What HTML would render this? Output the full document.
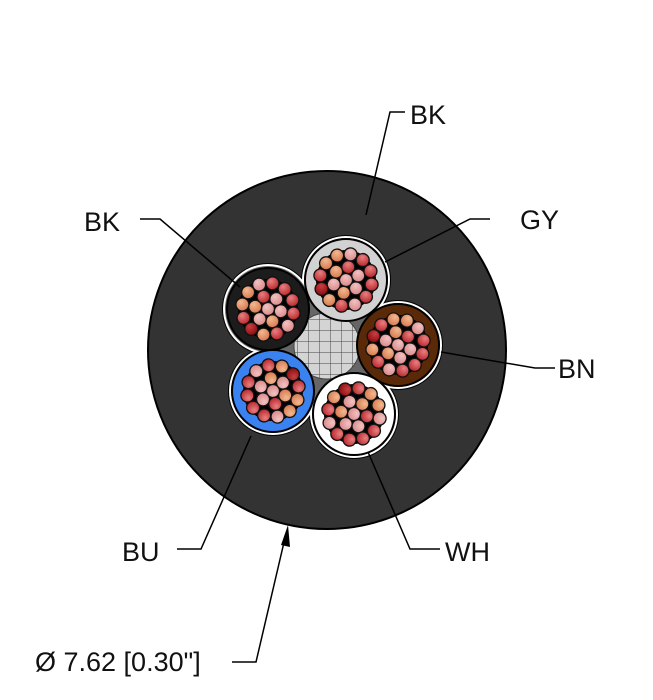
<!DOCTYPE html>
<html><head><meta charset="utf-8"><style>
html,body{margin:0;padding:0;background:#fff;}
svg{display:block;}
text{font-family:"Liberation Sans",sans-serif;font-size:27px;fill:#111;}
</style></head><body>
<svg width="653" height="700" viewBox="0 0 653 700" xmlns="http://www.w3.org/2000/svg">
<defs>
<radialGradient id="g1" cx="0.35" cy="0.35" r="0.7"><stop offset="0" stop-color="#f2c2c2"/><stop offset="1" stop-color="#d98888"/></radialGradient>
<radialGradient id="g2" cx="0.35" cy="0.35" r="0.7"><stop offset="0" stop-color="#e88080"/><stop offset="1" stop-color="#b8262c"/></radialGradient>
<radialGradient id="g3" cx="0.35" cy="0.35" r="0.7"><stop offset="0" stop-color="#f2b890"/><stop offset="1" stop-color="#d7784e"/></radialGradient>
<radialGradient id="g4" cx="0.35" cy="0.35" r="0.7"><stop offset="0" stop-color="#c84040"/><stop offset="1" stop-color="#8a0a10"/></radialGradient>
<g id="s" stroke="#111" stroke-width="1.3">
<circle cx="0" cy="0" r="30" fill="#000" stroke="none"/>
<circle r="6.5" cx="0" cy="0" fill="url(#g1)"/>
<circle r="6.5" cx="13" cy="0" fill="url(#g1)"/>
<circle r="6.5" cx="6.5" cy="11.3" fill="url(#g3)"/>
<circle r="6.5" cx="-6.5" cy="11.3" fill="url(#g1)"/>
<circle r="6.5" cx="-13" cy="0" fill="url(#g3)"/>
<circle r="6.5" cx="-6.5" cy="-11.3" fill="url(#g2)"/>
<circle r="6.5" cx="6.5" cy="-11.3" fill="url(#g1)"/>
<circle r="6.5" cx="26" cy="0" fill="url(#g2)"/>
<circle r="6.5" cx="22.5" cy="13" fill="url(#g1)"/>
<circle r="6.5" cx="13" cy="22.5" fill="url(#g2)"/>
<circle r="6.5" cx="0" cy="26" fill="url(#g3)"/>
<circle r="6.5" cx="-13" cy="22.5" fill="url(#g4)"/>
<circle r="6.5" cx="-22.5" cy="13" fill="url(#g2)"/>
<circle r="6.5" cx="-26" cy="0" fill="url(#g3)"/>
<circle r="6.5" cx="-22.5" cy="-13" fill="url(#g3)"/>
<circle r="6.5" cx="-13" cy="-22.5" fill="url(#g1)"/>
<circle r="6.5" cx="0" cy="-26" fill="url(#g2)"/>
<circle r="6.5" cx="13" cy="-22.5" fill="url(#g2)"/>
<circle r="6.5" cx="22.5" cy="-13" fill="url(#g2)"/>
</g>
<pattern id="hatch" width="11" height="11" patternUnits="userSpaceOnUse"><rect width="11" height="11" fill="#d4d4d4"/><path d="M0 0H11M0 0V11" stroke="#444" stroke-width="1"/></pattern>
</defs>

<circle cx="327" cy="350" r="179" fill="#333" stroke="#000" stroke-width="2"/>

<!-- bundle outline layers -->
<g fill="#000">
<circle cx="268" cy="309" r="46"/><circle cx="346" cy="280" r="45"/><circle cx="398" cy="345" r="45"/><circle cx="354" cy="414" r="45"/><circle cx="273" cy="391" r="45"/>
<circle cx="327" cy="348" r="58"/>
</g>
<g fill="#fff">
<circle cx="268" cy="309" r="45"/><circle cx="346" cy="280" r="44"/><circle cx="398" cy="345" r="44"/><circle cx="354" cy="414" r="44"/><circle cx="273" cy="391" r="44"/>
<circle cx="327" cy="348" r="57"/>
</g>
<g fill="#666">
<circle cx="268" cy="309" r="43"/><circle cx="346" cy="280" r="42"/><circle cx="398" cy="345" r="42"/><circle cx="354" cy="414" r="42"/><circle cx="273" cy="391" r="42"/>
<circle cx="327" cy="348" r="55"/>
</g>
<circle cx="327" cy="346" r="33" fill="url(#hatch)" stroke="#444" stroke-width="1"/>

<circle cx="268" cy="309" r="41" fill="#1c1c1c" stroke="#000" stroke-width="2"/>
<circle cx="346" cy="280" r="41" fill="#d2d2d2" stroke="#000" stroke-width="2"/>
<circle cx="398" cy="345" r="41" fill="#5a2a08" stroke="#000" stroke-width="2"/>
<circle cx="354" cy="414" r="41" fill="#fff" stroke="#000" stroke-width="2"/>
<circle cx="273" cy="391" r="41" fill="#3a82f0" stroke="#000" stroke-width="2"/>
<use href="#s" transform="translate(268,309) rotate(10)"/>
<use href="#s" transform="translate(346,280) rotate(40)"/>
<use href="#s" transform="translate(398,345) rotate(80)"/>
<use href="#s" transform="translate(354,414) rotate(130)"/>
<use href="#s" transform="translate(273,391) rotate(200)"/>

<g stroke="#000" stroke-width="1.5" fill="none">
<polyline points="405,112 390,112 366,215"/>
<polyline points="490,219 470,219 385,262"/>
<polyline points="140,219 160,219 240,287"/>
<polyline points="555,368 535,368 441,352"/>
<polyline points="177,549 201,549 251,436"/>
<polyline points="440,549 410,549 368,452"/>
<polyline points="232,662 256,662 285,538"/>
</g>
<polygon points="288,525 281,545 290,547" fill="#000"/>

<text x="410" y="124">BK</text>
<text x="520" y="229">GY</text>
<text x="84" y="231">BK</text>
<text x="558" y="378">BN</text>
<text x="122" y="561">BU</text>
<text x="445" y="561">WH</text>
<text x="35" y="671">Ø 7.62 [0.30"]</text>
</svg>
</body></html>
